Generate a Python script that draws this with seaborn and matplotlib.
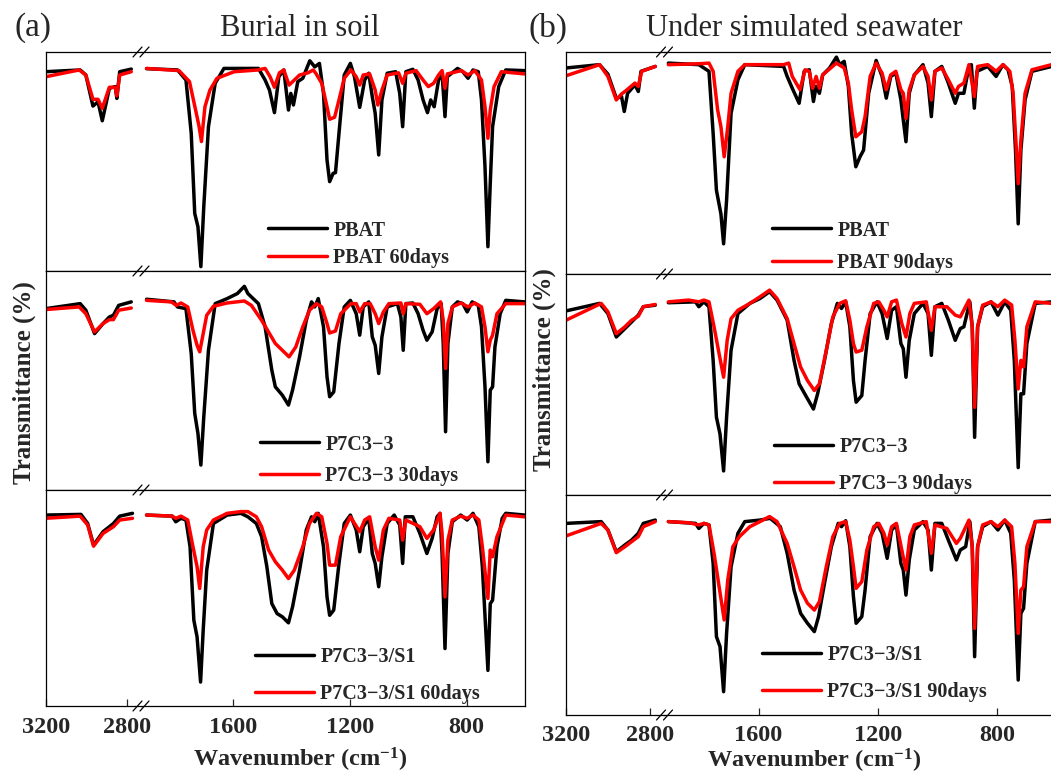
import pandas as pd
import matplotlib
matplotlib.use('Agg')
import matplotlib.pyplot as plt
import seaborn as sns
from matplotlib.lines import Line2D

# FTIR spectra: (wavenumber cm-1, transmittance in % of panel height)
soil_pbat = [(3200, 91.0), (3030, 91.8), (3002, 89.5), (2967, 75.3), (2942, 77.3), (2921, 68.6), (2886, 83.4),
             (2857, 84.2), (2849, 78.8), (2835, 91.0), (2778, 92.2),
             (1896, 92.4), (1790, 91.8), (1761, 87.2), (1743, 62.9), (1731, 26.3), (1720, 20.2), (1710, 2.0),
             (1700, 29.4), (1684, 65.9), (1661, 85.7), (1631, 92.5), (1513, 92.5), (1490, 87.2), (1475, 82.6),
             (1458, 72.3), (1443, 88.7), (1426, 91.8), (1410, 73.5), (1402, 81.1), (1393, 75.8), (1378, 86.5),
             (1361, 88.0), (1337, 96.0), (1320, 93.2), (1304, 94.8), (1290, 81.1), (1278, 50.7), (1269, 40.8),
             (1257, 44.6), (1249, 44.9), (1237, 62.9), (1219, 89.5), (1198, 94.8), (1184, 88.7), (1166, 74.7),
             (1149, 87.2), (1135, 90.3), (1123, 79.6), (1113, 72.0), (1101, 53.0), (1090, 78.1), (1072, 90.3),
             (1043, 91.0), (1029, 81.1), (1019, 65.9), (1008, 91.0), (984, 92.1), (966, 87.2), (949, 78.1),
             (934, 72.3), (923, 78.1), (911, 75.0), (896, 87.2), (884, 90.3), (874, 70.5), (866, 88.7),
             (831, 92.5), (813, 91.0), (795, 88.0), (778, 91.8), (760, 91.0), (749, 78.1), (737, 47.6),
             (727, 11.1), (719, 40.0), (711, 65.9), (690, 84.2), (666, 91.8), (602, 91.5)]
soil_pbat_60 = [(3200, 88.7), (3035, 91.8), (3002, 89.5), (2967, 78.4), (2942, 78.4), (2921, 74.3), (2886, 83.9),
                (2857, 83.9), (2849, 80.0), (2835, 89.5), (2778, 91.0),
                (1896, 92.5), (1785, 91.5), (1749, 86.5), (1728, 73.5), (1716, 65.9), (1708, 59.1), (1696, 75.0),
                (1679, 82.6), (1655, 88.0), (1596, 91.0), (1514, 91.8), (1490, 92.5), (1473, 88.7), (1458, 83.9),
                (1441, 90.5), (1426, 91.8), (1408, 84.9), (1390, 87.2), (1372, 89.5), (1343, 90.5), (1325, 91.8),
                (1315, 90.0), (1296, 85.7), (1278, 75.0), (1269, 69.3), (1252, 70.2), (1237, 78.1), (1219, 88.0),
                (1196, 91.8), (1178, 88.7), (1166, 84.9), (1154, 89.5), (1132, 90.0), (1113, 82.6), (1104, 75.8),
                (1090, 82.6), (1072, 89.5), (1033, 90.5), (1019, 85.7), (1008, 90.3), (973, 91.5), (949, 87.2),
                (931, 84.2), (913, 85.7), (896, 89.5), (884, 91.5), (874, 83.4), (866, 90.0), (818, 91.5),
                (795, 89.5), (772, 91.5), (749, 87.2), (737, 75.0), (727, 60.6), (719, 73.5), (706, 84.2),
                (681, 91.0), (602, 90.0)]
soil_p7 = [(3200, 82.8), (3030, 85.1), (3002, 82.1), (2959, 71.4), (2917, 76.0), (2886, 79.0), (2866, 79.8),
           (2840, 84.3), (2778, 85.9),
           (1896, 87.1), (1802, 85.9), (1790, 83.6), (1761, 82.8), (1743, 62.3), (1731, 35.0), (1720, 25.8),
           (1710, 11.4), (1700, 33.4), (1684, 63.8), (1661, 85.1), (1620, 87.4), (1585, 89.7), (1561, 93.0),
           (1549, 89.7), (1513, 85.1), (1490, 74.5), (1467, 54.7), (1455, 47.1), (1431, 43.3), (1410, 38.8),
           (1396, 45.6), (1372, 60.8), (1349, 77.5), (1331, 85.9), (1320, 83.6), (1308, 87.4), (1290, 74.5),
           (1278, 51.7), (1269, 42.6), (1255, 44.8), (1237, 66.9), (1219, 83.6), (1198, 86.6), (1178, 80.5),
           (1166, 70.7), (1154, 83.6), (1135, 85.9), (1123, 69.9), (1113, 66.1), (1101, 53.2), (1090, 69.9),
           (1072, 83.6), (1037, 85.1), (1025, 79.0), (1017, 63.8), (1008, 85.1), (984, 85.4), (966, 80.5),
           (949, 72.9), (936, 68.4), (918, 72.2), (901, 82.8), (887, 85.1), (880, 66.9), (872, 26.6),
           (864, 66.9), (849, 83.6), (831, 85.9), (813, 85.1), (798, 81.3), (781, 85.9), (760, 84.3),
           (749, 74.5), (737, 47.1), (727, 12.9), (719, 45.6), (711, 47.1), (703, 65.3), (685, 80.5),
           (666, 86.6), (602, 85.9)]
soil_p7_30 = [(3200, 82.4), (3035, 83.6), (3002, 80.5), (2959, 72.2), (2917, 76.0), (2886, 77.8), (2866, 77.8),
              (2840, 82.1), (2778, 83.1),
              (1896, 86.6), (1811, 85.9), (1794, 84.3), (1778, 85.4), (1755, 83.6), (1737, 72.9), (1723, 66.1),
              (1714, 63.1), (1702, 71.4), (1690, 79.8), (1667, 83.9), (1620, 85.4), (1561, 86.3), (1537, 84.3),
              (1502, 77.5), (1455, 66.9), (1408, 60.8), (1385, 65.3), (1361, 74.5), (1338, 82.1), (1314, 85.1),
              (1296, 83.6), (1278, 76.0), (1269, 71.7), (1249, 72.6), (1231, 80.5), (1196, 85.1), (1178, 85.1),
              (1166, 81.3), (1149, 85.1), (1130, 85.1), (1113, 80.5), (1101, 76.0), (1085, 81.3), (1066, 85.1),
              (1025, 85.4), (1017, 80.5), (1008, 85.1), (960, 84.8), (936, 80.5), (913, 82.8), (889, 85.9),
              (880, 77.5), (872, 55.5), (864, 76.0), (849, 83.6), (819, 85.4), (795, 83.6), (772, 85.4),
              (749, 83.6), (737, 74.5), (727, 63.1), (719, 68.4), (711, 70.7), (696, 80.5), (666, 85.1),
              (602, 85.1)]
soil_s1 = [(3200, 88.4), (3026, 88.7), (2993, 84.5), (2964, 74.5), (2917, 80.7), (2886, 83.0), (2866, 84.5),
           (2835, 87.9), (2772, 89.2),
           (1896, 88.4), (1808, 87.9), (1796, 85.3), (1778, 86.9), (1761, 86.1), (1747, 73.7), (1734, 39.7),
           (1723, 32.0), (1711, 11.1), (1702, 35.1), (1690, 62.9), (1667, 84.5), (1620, 88.4), (1573, 89.2),
           (1549, 87.6), (1520, 84.5), (1502, 78.4), (1484, 64.5), (1467, 47.4), (1449, 42.8), (1431, 41.3),
           (1410, 38.5), (1396, 45.9), (1372, 62.9), (1349, 81.5), (1331, 87.6), (1320, 85.3), (1308, 89.2),
           (1290, 73.7), (1278, 50.5), (1269, 42.0), (1255, 44.4), (1237, 66.0), (1219, 84.5), (1198, 88.4),
           (1178, 81.5), (1166, 71.4), (1154, 83.0), (1135, 86.9), (1123, 70.6), (1113, 66.0), (1101, 55.2),
           (1090, 69.1), (1072, 84.5), (1048, 88.4), (1029, 83.8), (1019, 66.0), (1010, 87.6), (984, 87.6),
           (960, 79.9), (936, 70.6), (918, 77.6), (901, 87.6), (891, 89.2), (884, 70.6), (874, 26.6),
           (864, 70.6), (849, 85.3), (820, 88.4), (798, 86.1), (778, 89.2), (758, 83.0), (746, 64.5),
           (727, 16.5), (719, 47.4), (711, 49.0), (696, 73.7), (678, 86.9), (666, 89.2), (602, 88.4)]
soil_s1_60 = [(3200, 86.9), (3030, 87.9), (2993, 83.8), (2964, 74.0), (2917, 79.9), (2886, 81.8), (2866, 83.0),
              (2835, 86.1), (2772, 86.9),
              (1896, 88.4), (1808, 87.9), (1796, 86.9), (1778, 87.9), (1755, 86.1), (1737, 73.7), (1723, 64.5),
              (1714, 54.4), (1702, 73.7), (1690, 81.5), (1667, 86.1), (1620, 89.2), (1573, 90.0), (1549, 90.0),
              (1520, 87.6), (1502, 83.0), (1478, 72.2), (1455, 66.8), (1431, 62.9), (1410, 59.0), (1390, 62.9),
              (1361, 73.7), (1338, 84.5), (1314, 89.2), (1296, 87.6), (1278, 75.3), (1269, 65.2), (1249, 65.2),
              (1231, 78.4), (1198, 87.6), (1166, 80.7), (1149, 86.1), (1132, 87.6), (1113, 73.7), (1101, 67.5),
              (1085, 81.5), (1066, 86.9), (1029, 86.1), (1019, 76.8), (1008, 86.1), (960, 83.0), (936, 77.6),
              (913, 81.5), (891, 89.2), (884, 79.9), (874, 50.5), (864, 76.8), (849, 86.1), (820, 87.9),
              (798, 86.9), (778, 88.4), (758, 86.1), (746, 73.7), (727, 49.8), (719, 72.2), (711, 69.1),
              (696, 78.4), (666, 88.4), (602, 87.6)]

sea_pbat = [(3200, 92.8), (3040, 94.3), (3000, 90.0), (2960, 79.2), (2935, 79.9), (2922, 73.2), (2906, 81.4),
            (2871, 85.2), (2855, 82.2), (2842, 91.3), (2774, 93.5),
            (1902, 95.0), (1800, 94.3), (1766, 91.3), (1752, 63.3), (1741, 37.7), (1726, 27.1), (1717, 13.6),
            (1707, 33.2), (1692, 72.4), (1669, 87.5), (1646, 94.3), (1516, 93.5), (1504, 89.0), (1487, 83.7),
            (1464, 76.9), (1447, 91.3), (1430, 92.0), (1416, 77.7), (1407, 84.5), (1396, 81.4), (1385, 89.7),
            (1362, 92.8), (1339, 97.7), (1328, 94.3), (1313, 95.8), (1299, 84.5), (1288, 63.3), (1274, 48.3),
            (1260, 52.8), (1248, 55.8), (1231, 81.4), (1206, 96.2), (1186, 89.0), (1172, 79.2), (1157, 89.0),
            (1140, 90.5), (1123, 78.4), (1115, 69.4), (1106, 59.6), (1095, 81.4), (1078, 89.7), (1049, 94.3),
            (1032, 86.0), (1021, 70.9), (1009, 91.3), (986, 93.5), (964, 86.0), (941, 76.9), (930, 81.4),
            (912, 81.4), (895, 93.5), (887, 94.3), (877, 74.7), (868, 91.3), (832, 93.5), (804, 89.0),
            (781, 94.3), (764, 92.0), (750, 84.5), (739, 55.8), (730, 22.6), (721, 55.8), (707, 78.4),
            (684, 91.3), (618, 93.5)]
sea_pbat_90 = [(3200, 89.3), (3040, 94.3), (3000, 89.0), (2960, 78.4), (2935, 81.1), (2919, 82.2), (2871, 86.0),
               (2855, 84.5), (2839, 91.3), (2774, 93.5),
               (1902, 94.3), (1800, 94.7), (1766, 95.0), (1752, 91.3), (1737, 73.9), (1726, 66.4), (1715, 52.8),
               (1703, 66.4), (1692, 81.4), (1669, 91.3), (1646, 94.3), (1516, 94.3), (1499, 95.0), (1487, 89.0),
               (1461, 83.0), (1444, 92.0), (1430, 91.3), (1419, 83.7), (1407, 89.0), (1396, 83.7), (1385, 89.7),
               (1339, 95.0), (1313, 92.8), (1299, 86.0), (1288, 73.9), (1274, 61.8), (1254, 64.1), (1243, 70.9),
               (1226, 89.0), (1206, 95.0), (1186, 90.5), (1172, 83.0), (1157, 89.7), (1140, 91.3), (1123, 83.0),
               (1115, 81.4), (1106, 70.1), (1095, 83.0), (1078, 89.7), (1049, 93.5), (1032, 89.0), (1021, 78.4),
               (1009, 91.3), (986, 92.8), (964, 87.5), (941, 81.4), (930, 84.5), (912, 86.0), (895, 94.3),
               (877, 79.9), (866, 93.5), (832, 94.3), (804, 91.3), (781, 94.3), (758, 91.3), (747, 81.4),
               (736, 55.8), (730, 40.7), (721, 60.3), (707, 81.4), (684, 92.0), (618, 94.3)]
sea_p7 = [(3200, 83.3), (3040, 86.7), (3000, 82.1), (2960, 71.5), (2919, 75.3), (2887, 78.3), (2855, 81.4),
          (2831, 85.2), (2774, 85.9),
          (1902, 87.0), (1811, 87.4), (1800, 85.2), (1783, 87.4), (1766, 85.2), (1752, 60.9), (1741, 35.2),
          (1729, 27.6), (1717, 10.9), (1707, 35.2), (1692, 65.5), (1669, 82.1), (1629, 86.7), (1595, 88.9),
          (1563, 92.0), (1538, 88.2), (1504, 79.1), (1481, 60.9), (1464, 50.3), (1442, 45.0), (1416, 38.9),
          (1402, 45.8), (1379, 60.9), (1356, 77.6), (1336, 86.7), (1322, 84.4), (1308, 87.4), (1294, 76.1),
          (1282, 51.8), (1273, 42.0), (1254, 45.0), (1243, 60.9), (1226, 82.1), (1203, 87.4), (1186, 82.1),
          (1169, 70.8), (1154, 83.6), (1138, 85.2), (1123, 68.5), (1115, 66.2), (1106, 53.3), (1095, 70.0),
          (1078, 82.1), (1049, 86.7), (1032, 82.1), (1021, 63.2), (1009, 85.2), (986, 86.7), (964, 79.1),
          (941, 70.0), (924, 75.3), (912, 76.1), (892, 87.4), (884, 76.1), (876, 26.1), (866, 76.1),
          (849, 85.2), (821, 87.4), (798, 81.4), (775, 87.4), (755, 83.6), (743, 60.9), (730, 12.4),
          (721, 45.8), (712, 45.8), (701, 68.5), (673, 86.7), (618, 87.4)]
sea_p7_90 = [(3200, 79.1), (3032, 86.7), (3000, 82.9), (2960, 73.0), (2919, 76.1), (2887, 79.1), (2855, 80.9),
             (2831, 85.2), (2774, 86.2),
             (1902, 87.4), (1834, 88.2), (1800, 87.4), (1783, 88.2), (1766, 87.4), (1749, 76.1), (1732, 63.9),
             (1717, 53.3), (1705, 70.0), (1692, 79.8), (1669, 83.6), (1629, 86.7), (1595, 89.7), (1563, 92.7),
             (1538, 88.9), (1504, 79.8), (1481, 68.5), (1459, 57.9), (1436, 51.8), (1413, 47.3), (1396, 50.3),
             (1373, 65.5), (1351, 80.6), (1328, 86.7), (1308, 87.9), (1294, 79.1), (1282, 68.5), (1273, 64.7),
             (1254, 65.5), (1237, 76.1), (1214, 86.7), (1197, 87.4), (1180, 83.6), (1169, 80.6), (1154, 87.4),
             (1138, 88.2), (1120, 77.6), (1106, 71.5), (1093, 82.1), (1078, 86.7), (1038, 87.4), (1021, 74.5),
             (1009, 85.2), (969, 85.2), (941, 81.4), (924, 80.6), (895, 88.2), (884, 76.1), (876, 39.7),
             (866, 76.1), (849, 85.9), (821, 87.4), (798, 85.2), (775, 88.2), (752, 86.0), (741, 70.0),
             (730, 48.0), (721, 60.9), (712, 57.9), (701, 76.1), (673, 87.4), (618, 86.7)]
sea_s1 = [(3200, 87.1), (3032, 87.9), (3000, 84.1), (2960, 74.2), (2919, 77.3), (2887, 79.5), (2855, 82.6),
          (2831, 87.1), (2774, 88.6),
          (1902, 87.9), (1811, 87.1), (1800, 84.8), (1783, 87.1), (1766, 86.4), (1752, 68.9), (1741, 35.6),
          (1729, 31.1), (1717, 10.6), (1707, 37.1), (1692, 67.4), (1669, 82.6), (1646, 87.9), (1595, 88.6),
          (1561, 89.4), (1527, 85.6), (1504, 73.5), (1481, 56.8), (1459, 46.2), (1436, 41.7), (1413, 37.9),
          (1399, 44.7), (1379, 59.8), (1356, 76.5), (1333, 87.1), (1322, 85.6), (1308, 88.3), (1294, 76.5),
          (1282, 53.8), (1273, 41.7), (1254, 44.7), (1243, 56.8), (1226, 81.1), (1203, 87.1), (1186, 82.6),
          (1169, 71.2), (1154, 84.1), (1138, 86.4), (1123, 68.9), (1115, 65.9), (1106, 54.5), (1095, 70.5),
          (1078, 84.1), (1049, 87.9), (1032, 84.1), (1021, 65.9), (1009, 87.1), (986, 87.1), (964, 79.5),
          (937, 70.5), (924, 75.0), (906, 76.5), (892, 87.9), (884, 76.5), (876, 26.5), (866, 76.5),
          (849, 85.6), (821, 87.9), (798, 84.1), (775, 88.6), (755, 82.6), (743, 61.4), (730, 15.9),
          (721, 46.2), (712, 48.5), (701, 68.9), (673, 87.9), (618, 88.6)]
sea_s1_90 = [(3200, 81.4), (3032, 87.1), (3000, 84.1), (2960, 73.8), (2919, 76.5), (2887, 78.8), (2855, 81.1),
             (2831, 85.6), (2774, 87.9),
             (1902, 87.9), (1834, 87.4), (1800, 86.4), (1783, 87.1), (1766, 86.4), (1749, 73.5), (1732, 58.3),
             (1715, 43.2), (1703, 61.4), (1686, 76.5), (1664, 81.1), (1629, 85.6), (1595, 87.9), (1563, 90.2),
             (1538, 87.9), (1504, 78.0), (1481, 67.4), (1459, 56.8), (1436, 50.8), (1413, 47.7), (1396, 51.5),
             (1373, 67.4), (1351, 81.1), (1328, 87.1), (1308, 87.9), (1294, 79.5), (1282, 67.4), (1273, 57.6),
             (1254, 60.6), (1237, 75.0), (1214, 85.6), (1197, 87.1), (1180, 82.6), (1169, 77.3), (1154, 85.6),
             (1138, 87.1), (1120, 75.0), (1106, 65.9), (1093, 81.1), (1078, 86.4), (1038, 87.9), (1021, 73.5),
             (1009, 86.4), (969, 84.8), (937, 78.0), (924, 80.3), (895, 88.6), (884, 76.5), (876, 39.4),
             (866, 76.5), (849, 86.4), (821, 87.9), (798, 85.6), (775, 88.6), (752, 85.6), (741, 68.9),
             (730, 37.1), (721, 56.8), (712, 58.3), (701, 76.5), (673, 87.9), (618, 87.9)]

left_ticks = [3200, 2800]
right_ticks = [1600, 1200, 800]
column_titles = ["Burial in soil", "Under simulated seawater"]
column_tags = ["(a)", "(b)"]

W, H = 1051, 776
sns.set_style("ticks")
plt.rcParams['font.family'] = ['Liberation Serif', 'DejaVu Serif']
plt.rcParams['mathtext.fontset'] = 'custom'
plt.rcParams['mathtext.rm'] = 'Liberation Serif:bold'

fig = plt.figure(figsize=(W / 100, H / 100), dpi=100)


def fx(px):
    return px / W


def fy(py):
    return 1 - py / H


# layout in pixels: left edge, break, right edge, row boundaries
columns = [
    dict(x0=45.7, xb=141, x1=525, rows=[52, 271, 490, 706], tickpad=8,
         panels=[(soil_pbat, soil_pbat_60, "PBAT", "PBAT 60days", (268, 220.5), 0.37),
                 (soil_p7, soil_p7_30, "P7C3\u22123", "P7C3\u22123 30days", (260, 434.5), 0.57),
                 (soil_s1, soil_s1_60, "P7C3\u22123/S1", "P7C3\u22123/S1 60days", (255, 647.5), 0.83)],
         xlabel=(300, 760), ylabel=(24, 383), title=(300, 28), tag=(33, 28)),
    dict(x0=566, xb=664.5, x1=1057, rows=[52, 274, 495, 715], tickpad=7,
         panels=[(sea_pbat, sea_pbat_90, "PBAT", "PBAT 90days", (772, 220.5), 0.62),
                 (sea_p7, sea_p7_90, "P7C3\u22123", "P7C3\u22123 90days", (774, 437.5), 0.83),
                 (sea_s1, sea_s1_90, "P7C3\u22123/S1", "P7C3\u22123/S1 90days", (762, 645.5), 0.83)],
         xlabel=(814, 761), ylabel=(544, 370), title=(804, 28), tag=(548, 28)),
]


def break_mark(xpx, ypx):
    for dx in (-3.5, 3.5):
        fig.add_artist(Line2D([fx(xpx + dx - 4.5), fx(xpx + dx + 4.5)], [fy(ypx + 5), fy(ypx - 5)],
                              transform=fig.transFigure, color='black', lw=0.9))


for ci, col in enumerate(columns):
    rows = col['rows']
    for ri, (black, red, lab_b, lab_r, leg_xy, spacing) in enumerate(col['panels']):
        top, bot = rows[ri], rows[ri + 1]
        ax_l = fig.add_axes([fx(col['x0']), fy(bot), fx(col['xb']) - fx(col['x0']), (bot - top) / H])
        ax_r = fig.add_axes([fx(col['xb']), fy(bot), fx(col['x1']) - fx(col['xb']), (bot - top) / H])
        for data, color, label in [(black, 'black', lab_b), (red, '#ff0000', lab_r)]:
            df = pd.DataFrame(data, columns=['wn', 'T'])
            sns.lineplot(data=df[df.wn > 2300], x='wn', y='T', ax=ax_l, color=color, lw=2.5,
                         estimator=None, legend=False, solid_joinstyle='round')
            sns.lineplot(data=df[df.wn < 2300], x='wn', y='T', ax=ax_r, color=color, lw=2.5,
                         estimator=None, label=label, solid_joinstyle='round')
        ax_l.set_xlim(3200, 2730)
        ax_r.set_xlim(1915, 600)
        for ax in (ax_l, ax_r):
            ax.set_ylim(0, 100)
            ax.set_yticks([])
            ax.set_xlabel('')
            ax.set_ylabel('')
            for s in ax.spines.values():
                s.set_color('black')
                s.set_linewidth(0.9)
        ax_l.spines['right'].set_visible(False)
        ax_r.spines['left'].set_visible(False)
        if ri == 2:
            ax_l.set_xticks(left_ticks)
            ax_r.set_xticks(right_ticks)
            for ax in (ax_l, ax_r):
                ax.tick_params(axis='x', direction='in', length=5, width=0.9, pad=col['tickpad'], labelsize=17.5)
                for t in ax.get_xticklabels():
                    t.set_fontweight('bold')
        else:
            ax_l.set_xticks([])
            ax_r.set_xticks([])
        ax_r.legend(loc='upper left', bbox_to_anchor=(fx(leg_xy[0]), fy(leg_xy[1])),
                    bbox_transform=fig.transFigure, frameon=False, borderpad=0, borderaxespad=0,
                    handlelength=2.95, handletextpad=0.3, labelspacing=spacing,
                    prop={'weight': 'bold', 'size': 14.5})
        break_mark(col['xb'], top)
    break_mark(col['xb'], rows[-1])

    fig.text(fx(col['xlabel'][0]), fy(col['xlabel'][1]), 'Wavenumber (cm$\\mathregular{^{-1}}$)',
             ha='center', va='center', fontsize=17.5, fontweight='bold')
    fig.text(fx(col['ylabel'][0]), fy(col['ylabel'][1]), 'Transmittance (%)', rotation=90,
             ha='center', va='center', fontsize=18, fontweight='bold')
    fig.text(fx(col['title'][0]), fy(col['title'][1]), column_titles[ci], ha='center', va='center', fontsize=22)
    fig.text(fx(col['tag'][0]), fy(col['tag'][1]), column_tags[ci], ha='center', va='center', fontsize=24)

fig.savefig('out.png', dpi=100)
